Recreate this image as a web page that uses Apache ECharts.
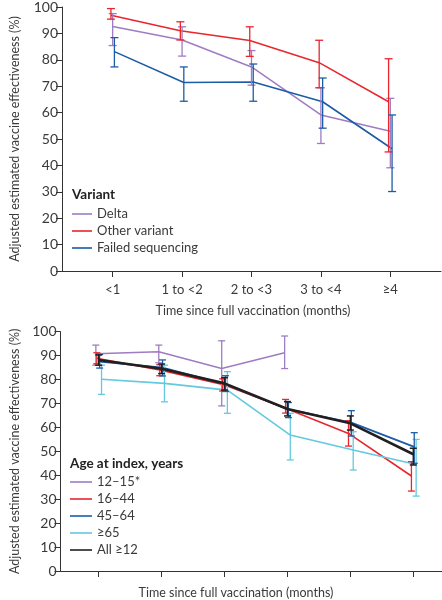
<!DOCTYPE html>
<html>
<head>
<meta charset="utf-8">
<script src="https://cdn.jsdelivr.net/npm/echarts@6/dist/echarts.min.js"></script>
<style>
html,body{margin:0;padding:0;background:#fff;}
#chart{width:442px;height:600px;}
</style>
</head>
<body>
<div id="chart"></div>
<script>
// ---- Data (top panel: by variant) ----
const topCats = ['<1', '1 to <2', '2 to <3', '3 to <4', '≥4'];
const deltaVE = [92.6, 87.5, 77.3, 59.1, 52.9];
const deltaLo = [85.4, 81.4, 70.4, 48.3, 39.1];
const deltaHi = [97.5, 92.5, 83.5, 69.4, 65.4];
const otherVE = [96.9, 91.0, 87.3, 78.9, 64.1];
const otherLo = [95.4, 87.5, 81.3, 69.4, 45.1];
const otherHi = [99.4, 94.4, 92.5, 87.4, 80.4];
const failVE = [83.1, 71.4, 71.6, 64.1, 46.3];
const failLo = [77.3, 64.3, 64.3, 54.1, 30.1];
const failHi = [88.4, 77.3, 78.4, 73.1, 59.1];

// ---- Data (bottom panel: by age) ----
const bottomCats = ['', '', '', '', '', ''];
const a12VE = [90.8, 91.6, 84.6, 91.2];
const a12Lo = [86.0, 87.0, 69.0, 84.6];
const a12Hi = [94.4, 94.4, 96.2, 98.2];
const a16VE = [88.9, 84.0, 78.0, 68.0, 57.5, 39.7];
const a16Lo = [86.6, 81.6, 75.2, 66.0, 52.2, 33.4];
const a16Hi = [91.2, 86.2, 80.3, 71.7, 62.8, 45.7];
const a45VE = [87.5, 85.0, 78.0, 67.5, 62.0, 51.9];
const a45Lo = [84.8, 81.5, 75.0, 64.1, 56.4, 45.0];
const a45Hi = [90.5, 88.2, 81.6, 70.4, 67.0, 57.8];
const a65VE = [80.1, 78.4, 75.6, 56.8, 50.6, 44.5];
const a65Lo = [73.8, 70.7, 65.9, 46.4, 42.2, 31.3];
const a65Hi = [86.0, 86.0, 83.3, 65.9, 58.2, 55.0];
const allVE = [88.2, 84.5, 78.4, 67.7, 61.7, 48.8];
const allLo = [86.0, 82.5, 75.6, 64.8, 58.9, 44.3];
const allHi = [90.3, 86.5, 80.8, 70.8, 64.8, 51.3];

// ---- Styles ----
const C = {purple: '#9e7cc3', red: '#e8262c', blue: '#1c5ca6', cyan: '#62c9df', black: '#231f20'};
const FONT = 'Lato';
const TXT = '#3a3a3a';

const chart = echarts.init(document.getElementById('chart'), null, {renderer: 'canvas'});

function lineData(vals, off) { return vals.map((v, i) => [i + off, v]); }
function errData(lo, hi, off) { return lo.map((l, i) => [i + off, l, hi[i]]); }

function errSeries(name, lo, hi, off, color, axisIdx, lw, cap) {
  return {
    name: name + ' CI', type: 'custom', xAxisIndex: axisIdx, yAxisIndex: axisIdx,
    data: errData(lo, hi, off), encode: {x: 0, y: [1, 2]},
    itemStyle: {color: color},
    silent: true, z: 3,
    renderItem: function (params, api) {
      const x = api.value(0);
      const p1 = api.coord([x, api.value(1)]);
      const p2 = api.coord([x, api.value(2)]);
      const st = {stroke: color, lineWidth: lw};
      return {type: 'group', children: [
        {type: 'line', shape: {x1: p1[0], y1: p1[1], x2: p2[0], y2: p2[1]}, style: st},
        {type: 'line', shape: {x1: p1[0] - cap, y1: p1[1], x2: p1[0] + cap, y2: p1[1]}, style: st},
        {type: 'line', shape: {x1: p2[0] - cap, y1: p2[1], x2: p2[0] + cap, y2: p2[1]}, style: st}
      ]};
    }
  };
}
function lineSeries(name, vals, off, color, axisIdx, lw, z) {
  return {
    name: name, type: 'line', xAxisIndex: axisIdx, yAxisIndex: axisIdx,
    data: lineData(vals, off), symbol: 'none', showSymbol: false,
    lineStyle: {color: color, width: lw}, itemStyle: {color: color},
    silent: true, z: z || 2, animation: false
  };
}

const topIdx = topCats.map((c, i) => i);
const botIdx = bottomCats.map((c, i) => i);

const axisCommonY = {
  type: 'value', min: 0, max: 100, interval: 10,
  axisLine: {show: true, onZero: false, lineStyle: {color: '#333', width: 1}},
  axisTick: {show: true, inside: false, length: 6, lineStyle: {color: '#333'}},
  axisLabel: {color: TXT, fontFamily: FONT, fontSize: 14, margin: 4},
  splitLine: {show: false},
  nameLocation: 'middle', nameRotate: 90,
  nameTextStyle: {color: TXT, fontFamily: FONT, fontSize: 12.5}
};

const legendText = {color: TXT, fontFamily: FONT, fontSize: 13, lineHeight: 17};

const option = {
  animation: false,
  backgroundColor: '#fff',
  textStyle: {fontFamily: FONT},
  grid: [
    {left: 54, top: 4.5, width: 387, height: 266.5, containLabel: false},
    {left: 52.7, top: 331.7, width: 389.3, height: 239.3, containLabel: false}
  ],
  xAxis: [
    {
      type: 'value', gridIndex: 0, min: -0.73, max: 4.73,
      axisLine: {show: true, onZero: false, lineStyle: {color: '#333', width: 1}},
      axisTick: {show: true, customValues: topIdx, length: 6, lineStyle: {color: '#333'}},
      axisLabel: {show: true, customValues: topIdx, formatter: v => topCats[Math.round(v)],
                  color: TXT, fontFamily: FONT, fontSize: 13, margin: 12},
      splitLine: {show: false}
    },
    {
      type: 'value', gridIndex: 1, min: -0.607, max: 5.456,
      axisLine: {show: true, onZero: false, lineStyle: {color: '#333', width: 1}},
      axisTick: {show: true, customValues: botIdx, length: 6, lineStyle: {color: '#333'}},
      axisLabel: {show: false, customValues: botIdx, formatter: v => bottomCats[Math.round(v)]},
      splitLine: {show: false}
    }
  ],
  yAxis: [
    Object.assign({}, axisCommonY, {gridIndex: 0, name: 'Adjusted estimated vaccine effectiveness (%)', nameGap: 41}),
    Object.assign({}, axisCommonY, {gridIndex: 1, name: 'Adjusted estimated vaccine effectiveness (%)', nameGap: 39.5})
  ],
  legend: [
    {
      data: [
        {name: 'Delta', itemStyle: {color: C.purple}},
        {name: 'Other variant', itemStyle: {color: C.red}},
        {name: 'Failed sequencing', itemStyle: {color: C.blue}}
      ],
      orient: 'vertical', left: 72, top: 205.5, itemGap: 0,
      icon: 'rect', itemWidth: 20, itemHeight: 1.6,
      textStyle: legendText, selectedMode: false, padding: 0
    },
    {
      data: [
        {name: '12–15*', itemStyle: {color: C.purple}},
        {name: '16–44', itemStyle: {color: C.red}},
        {name: '45–64', itemStyle: {color: C.blue}},
        {name: '≥65', itemStyle: {color: C.cyan}},
        {name: 'All ≥12', itemStyle: {color: C.black}}
      ],
      orient: 'vertical', left: 70, top: 473.5, itemGap: 0,
      icon: 'rect', itemWidth: 22, itemHeight: 1.6,
      textStyle: legendText, selectedMode: false, padding: 0
    }
  ],
  graphic: [
    {type: 'text', x: 72, y: 195, style: {text: 'Variant', fill: '#222', font: 'bold 13.5px Lato', verticalAlign: 'middle'}},
    {type: 'text', x: 70, y: 464, style: {text: 'Age at index, years', fill: '#222', font: 'bold 13.5px Lato', verticalAlign: 'middle'}},
    {type: 'text', x: 253, y: 311, style: {text: 'Time since full vaccination (months)', fill: TXT, font: '12.5px Lato', align: 'center', verticalAlign: 'middle'}},
    {type: 'text', x: 236, y: 593, style: {text: 'Time since full vaccination (months)', fill: TXT, font: '12.5px Lato', align: 'center', verticalAlign: 'middle'}}
  ],
  series: [
    errSeries('Delta', deltaLo, deltaHi, 0, C.purple, 0, 1.3, 4),
    errSeries('Other variant', otherLo, otherHi, -0.025, C.red, 0, 1.3, 4),
    errSeries('Failed sequencing', failLo, failHi, 0.025, C.blue, 0, 1.3, 4),
    lineSeries('Delta', deltaVE, 0, C.purple, 0, 1.5, 2),
    lineSeries('Other variant', otherVE, -0.025, C.red, 0, 1.5, 2),
    lineSeries('Failed sequencing', failVE, 0.025, C.blue, 0, 1.6, 2),
    errSeries('12–15*', a12Lo, a12Hi, -0.045, C.purple, 1, 1.3, 3.5),
    errSeries('≥65', a65Lo, a65Hi, 0.045, C.cyan, 1, 1.3, 3.5),
    errSeries('16–44', a16Lo, a16Hi, -0.03, C.red, 1, 1.3, 3.5),
    errSeries('45–64', a45Lo, a45Hi, 0.015, C.blue, 1, 1.3, 3.5),
    errSeries('All ≥12', allLo, allHi, 0, C.black, 1, 1.5, 3.5),
    lineSeries('12–15*', a12VE, -0.045, C.purple, 1, 1.5, 2),
    lineSeries('16–44', a16VE, -0.03, C.red, 1, 1.6, 2),
    lineSeries('45–64', a45VE, 0.015, C.blue, 1, 1.8, 2),
    lineSeries('≥65', a65VE, 0.045, C.cyan, 1, 1.6, 2),
    lineSeries('All ≥12', allVE, 0, C.black, 1, 2.6, 4)
  ]
};
chart.setOption(option);
</script>
</body>
</html>
